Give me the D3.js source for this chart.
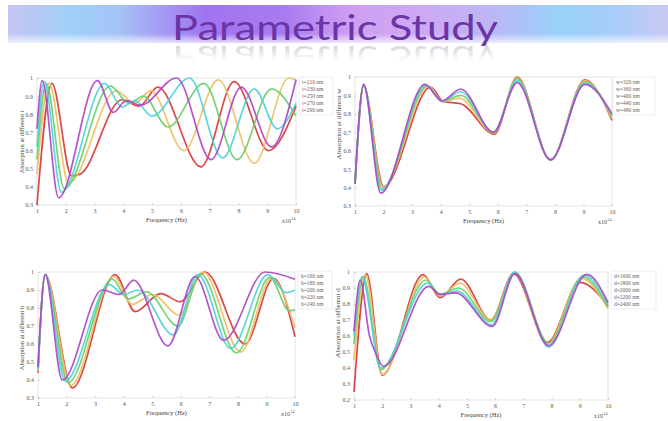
<!DOCTYPE html>
<html>
<head>
<meta charset="utf-8">
<script src="https://cdn.jsdelivr.net/npm/d3@7"></script>
<style>
  body { margin: 0; background: #fff; }
  svg { display: block; }
</style>
</head>
<body>
<div id="chart"></div>
<script>
// ---- data (frequency in 1e14 Hz, absorption) ----
const freqTicks = [1, 2, 3, 4, 5, 6, 7, 8, 9, 10];
const yTicksA = [0.3, 0.4, 0.5, 0.6, 0.7, 0.8, 0.9, 1];
const yTicksB = [0.2, 0.3, 0.4, 0.5, 0.6, 0.7, 0.8, 0.9, 1];

// thickness t
const tLabels = ['t=210 nm', 't=230 nm', 't=250 nm', 't=270 nm', 't=290 nm'];
const t210 = [[1,0.3],[1.52,0.97],[2.2,0.46],[2.5,0.47],[3.95,0.88],[4.55,0.845],[5.2,0.95],[6.7,0.51],[7.85,0.98],[9.05,0.6],[10,0.845]];
const t230 = [[1,0.47],[1.42,0.97],[2.1,0.42],[3.75,0.93],[4.4,0.86],[4.95,0.93],[6.1,0.6],[7.3,0.99],[8.55,0.53],[9.75,1.0],[10,0.99]];
const t250 = [[1,0.55],[1.32,0.97],[1.95,0.39],[3.55,0.955],[4.2,0.86],[4.7,0.9],[5.55,0.73],[6.8,0.97],[7.95,0.55],[9.15,0.94],[10,0.79]];
const t270 = [[1,0.62],[1.25,0.98],[1.85,0.37],[3.35,0.97],[3.95,0.84],[4.4,0.875],[5.0,0.79],[6.3,1.0],[7.45,0.56],[8.55,0.94],[9.35,0.72],[10,0.86]];
const t290 = [[1,0.72],[1.18,0.985],[1.75,0.34],[3.1,0.985],[3.65,0.81],[4.1,0.875],[4.6,0.85],[5.85,1.0],[7.05,0.55],[8.1,0.95],[9.15,0.62],[10,0.99]];

// width w
const wLabels = ['w=320 nm', 'w=360 nm', 'w=400 nm', 'w=440 nm', 'w=480 nm'];
const w320 = [[1,0.42],[1.3,0.95],[2.0,0.405],[3.65,0.945],[4.1,0.866],[4.7,0.855],[5.88,0.69],[6.68,1.0],[7.85,0.55],[9.05,0.985],[10,0.765]];
const w360 = [[1,0.42],[1.3,0.955],[1.97,0.405],[3.58,0.95],[4.05,0.866],[4.65,0.885],[5.87,0.695],[6.68,0.995],[7.85,0.55],[9.05,0.98],[10,0.775]];
const w400 = [[1,0.42],[1.3,0.955],[1.95,0.395],[3.52,0.95],[4.05,0.868],[4.7,0.9],[5.86,0.7],[6.68,0.99],[7.85,0.55],[9.05,0.975],[10,0.785]];
const w440 = [[1,0.42],[1.3,0.96],[1.92,0.385],[3.48,0.955],[4.05,0.87],[4.7,0.92],[5.85,0.7],[6.68,0.98],[7.85,0.55],[9.05,0.965],[10,0.795]];
const w480 = [[1,0.42],[1.3,0.96],[1.9,0.37],[3.45,0.96],[4.05,0.87],[4.7,0.935],[5.85,0.7],[6.68,0.97],[7.85,0.55],[9.05,0.96],[10,0.8]];

// height h
const hLabels = ['h=160 nm', 'h=180 nm', 'h=200 nm', 'h=220 nm', 'h=240 nm'];
const h160 = [[1,0.44],[1.25,0.985],[2.2,0.356],[3.7,0.985],[4.4,0.78],[5.3,0.88],[5.98,0.835],[6.85,1.0],[8.25,0.6],[9.25,0.965],[10,0.64]];
const h180 = [[1,0.45],[1.25,0.985],[2.15,0.37],[3.65,0.975],[4.3,0.82],[5.0,0.875],[5.95,0.76],[6.78,1.0],[8.1,0.555],[9.18,0.965],[10,0.69]];
const h200 = [[1,0.46],[1.25,0.985],[2.05,0.385],[3.6,0.96],[4.15,0.85],[4.8,0.89],[5.9,0.7],[6.7,0.99],[7.95,0.55],[9.12,0.97],[9.8,0.785],[10,0.79]];
const h220 = [[1,0.46],[1.25,0.985],[1.95,0.395],[3.5,0.93],[4.0,0.875],[4.5,0.9],[5.75,0.65],[6.6,0.985],[7.75,0.575],[9.05,0.985],[9.7,0.885],[10,0.9]];
const h240 = [[1,0.47],[1.25,0.985],[1.85,0.4],[3.25,0.9],[3.85,0.875],[4.35,0.955],[5.55,0.59],[6.5,0.975],[7.5,0.62],[8.95,1.0],[10,0.96]];

// period d
const dLabels = ['d=1600 nm', 'd=1800 nm', 'd=2000 nm', 'd=2200 nm', 'd=2400 nm'];
const d1600 = [[1,0.25],[1.45,0.99],[2.0,0.355],[3.45,0.983],[4.05,0.84],[4.78,0.955],[5.85,0.7],[6.65,0.99],[7.85,0.56],[9.0,0.935],[10,0.79]];
const d1800 = [[1,0.45],[1.4,0.985],[2.0,0.36],[3.5,0.97],[4.05,0.85],[4.75,0.93],[5.85,0.7],[6.68,0.995],[7.85,0.55],[9.05,0.96],[10,0.77]];
const d2000 = [[1,0.55],[1.33,0.97],[1.95,0.39],[3.55,0.95],[4.05,0.86],[4.7,0.9],[5.85,0.69],[6.7,1.0],[7.9,0.555],[9.1,0.97],[10,0.78]];
const d2200 = [[1,0.6],[1.28,0.97],[1.95,0.4],[3.6,0.93],[4.05,0.86],[4.65,0.88],[5.88,0.67],[6.7,1.0],[7.9,0.53],[9.15,0.98],[10,0.8]];
const d2400 = [[1,0.63],[1.22,0.95],[1.55,0.6],[1.75,0.5],[2.05,0.41],[3.65,0.91],[4.05,0.86],[4.6,0.87],[5.9,0.66],[6.7,0.99],[7.9,0.54],[9.25,0.985],[10,0.81]];

// ---- style configs ----
const width = 668;
const height = 421;
const colors = ['#d93a3a', '#f0c064', '#6ccf6c', '#4dd4d8', '#b046c6'];
const tickFont = "'Liberation Serif', 'DejaVu Serif', serif";

// box: [left, top, right, bottom]; yl: [x offset, centre y, font size] of the y label
const panels = [
  { series: [t210, t230, t250, t270, t290], labels: tLabels, yLabel: 'Absorption at different t', yTicks: yTicksA, box: [37, 78, 296, 205], legend: [299, 77, 34], yl: [13, 142, 6.5] },
  { series: [w320, w360, w400, w440, w480], labels: wLabels, yLabel: 'Absorption at different w', yTicks: yTicksA, box: [355, 77, 612, 206], legend: [613, 77, 42], yl: [14, 124, 7] },
  { series: [h160, h180, h200, h220, h240], labels: hLabels, yLabel: 'Absorption at different h', yTicks: yTicksA, box: [38, 272, 295, 398], legend: [298, 271, 34], yl: [14, 338, 6.5] },
  { series: [d1600, d1800, d2000, d2200, d2400], labels: dLabels, yLabel: 'Absorption at different d', yTicks: yTicksB, box: [354, 272, 608, 400], legend: [611, 271, 45], yl: [14, 323, 7] }
];

const svg = d3.select('#chart').append('svg')
  .attr('width', width)
  .attr('height', height);

const defs = svg.append('defs');

// ---- title banner ----
const band = defs.append('linearGradient').attr('id', 'band');
[[0, '#c6c4f2'], [0.1, '#9fd0f8'], [0.17, '#a6c2f6'], [0.3, '#a173f0'], [0.42, '#a87cf0'],
 [0.52, '#cf9ff2'], [0.62, '#cda8f4'], [0.72, '#bfb4f6'], [0.84, '#98d2f9'], [0.92, '#a8cdf8'], [1, '#c9c8f4']]
  .forEach(s => band.append('stop').attr('offset', s[0]).attr('stop-color', s[1]));

const fade = defs.append('linearGradient').attr('id', 'fade')
  .attr('x1', 0).attr('y1', 0).attr('x2', 0).attr('y2', 1);
fade.append('stop').attr('offset', 0).attr('stop-color', '#fff').attr('stop-opacity', 0);
fade.append('stop').attr('offset', 0.75).attr('stop-color', '#fff').attr('stop-opacity', 0);
fade.append('stop').attr('offset', 1).attr('stop-color', '#fff').attr('stop-opacity', 0.75);

// mask for the mirrored title: faint near the baseline, gone after ~18px
const maskGrad = defs.append('linearGradient').attr('id', 'maskGrad')
  .attr('x1', 0).attr('y1', 0).attr('x2', 0).attr('y2', 1);
maskGrad.append('stop').attr('offset', 0).attr('stop-color', '#fff').attr('stop-opacity', 0.28);
maskGrad.append('stop').attr('offset', 1).attr('stop-color', '#fff').attr('stop-opacity', 0);
defs.append('mask').attr('id', 'reflMask')
  .attr('maskUnits', 'userSpaceOnUse')
  .attr('x', 0).attr('y', 40).attr('width', width).attr('height', 30)
  .append('rect')
  .attr('x', 0).attr('y', 43).attr('width', width).attr('height', 18)
  .attr('fill', 'url(#maskGrad)');

svg.append('rect').attr('x', 8).attr('y', 5).attr('width', width - 8).attr('height', 38).attr('fill', 'url(#band)');
svg.append('rect').attr('x', 8).attr('y', 5).attr('width', width - 8).attr('height', 38).attr('fill', 'url(#fade)');

const title = 'Parametric Study';
svg.append('text')
  .attr('id', 'title')
  .attr('x', 172).attr('y', 40)
  .attr('textLength', 326).attr('lengthAdjust', 'spacingAndGlyphs')
  .style('font', "34px Lato, 'Open Sans', sans-serif")
  .attr('fill', '#6b35a6')
  .text(title);

svg.append('g')
  .attr('mask', 'url(#reflMask)')
  .style('filter', 'grayscale(60%)')
  .append('use')
  .attr('href', '#title')
  .attr('transform', 'translate(0,86) scale(1,-1)');

// ---- panels ----
const fmtY = d => d === 1 ? '1' : d.toFixed(1);

panels.forEach(p => {
  const [x0, y0, x1, y1] = p.box;
  const x = d3.scaleLinear().domain([1, 10]).range([x0, x1]);
  const y = d3.scaleLinear().domain([p.yTicks[0], 1]).range([y1, y0]);
  const g = svg.append('g');

  g.append('rect')
    .attr('x', x0).attr('y', y0)
    .attr('width', x1 - x0).attr('height', y1 - y0)
    .attr('fill', '#fff').attr('stroke', '#dcdcdc').attr('stroke-width', 0.8);

  const xAxis = g.append('g')
    .attr('transform', `translate(0,${y1})`)
    .call(d3.axisBottom(x).tickValues(freqTicks).tickSize(-2).tickPadding(4).tickFormat(d3.format('d')));
  const yAxis = g.append('g')
    .attr('transform', `translate(${x0},0)`)
    .call(d3.axisLeft(y).tickValues(p.yTicks).tickSize(-2).tickPadding(4).tickFormat(fmtY));

  [xAxis, yAxis].forEach(a => {
    a.select('.domain').remove();
    a.selectAll('line').attr('stroke', '#bbb').attr('stroke-width', 0.6);
    a.selectAll('text').style('font', `6px ${tickFont}`).attr('fill', '#555');
  });

  const line = d3.line()
    .x(d => x(d[0]))
    .y(d => y(d[1]))
    .curve(d3.curveMonotoneX);

  g.append('g')
    .selectAll('path')
    .data(p.series)
    .enter()
    .append('path')
    .attr('d', line)
    .attr('fill', 'none')
    .attr('stroke', (d, i) => colors[i])
    .attr('stroke-width', 1.7)
    .attr('stroke-linejoin', 'round')
    .attr('opacity', 0.92);

  // axis labels
  g.append('text')
    .attr('x', (x0 + x1) / 2).attr('y', y1 + 17)
    .attr('text-anchor', 'middle')
    .style('font', `6.5px ${tickFont}`).attr('fill', '#444')
    .text('Frequency (Hz)');

  const sci = g.append('text')
    .attr('x', x1 - 14).attr('y', y1 + 18)
    .style('font', `6px ${tickFont}`).attr('fill', '#555');
  sci.append('tspan').text('x10');
  sci.append('tspan').attr('dy', -3).style('font-size', '4.5px').text('14');

  const [ox, cy, fs] = p.yl;
  g.append('text')
    .attr('transform', `translate(${x0 - ox},${cy}) rotate(-90)`)
    .attr('text-anchor', 'middle')
    .style('font', `${fs}px ${tickFont}`).attr('fill', '#444')
    .text(p.yLabel);

  // legend
  const [lx, ly, lw] = p.legend;
  const leg = g.append('g');
  leg.append('rect')
    .attr('x', lx).attr('y', ly)
    .attr('width', lw).attr('height', 38)
    .attr('fill', '#fff').attr('stroke', '#e2e2e2').attr('stroke-width', 0.6);
  leg.selectAll('text')
    .data(p.labels)
    .enter()
    .append('text')
    .attr('x', lx + 3)
    .attr('y', (d, i) => ly + 7 + i * 7)
    .style('font', `5.5px ${tickFont}`).attr('fill', '#666')
    .text(d => d);
});
</script>
</body>
</html>
